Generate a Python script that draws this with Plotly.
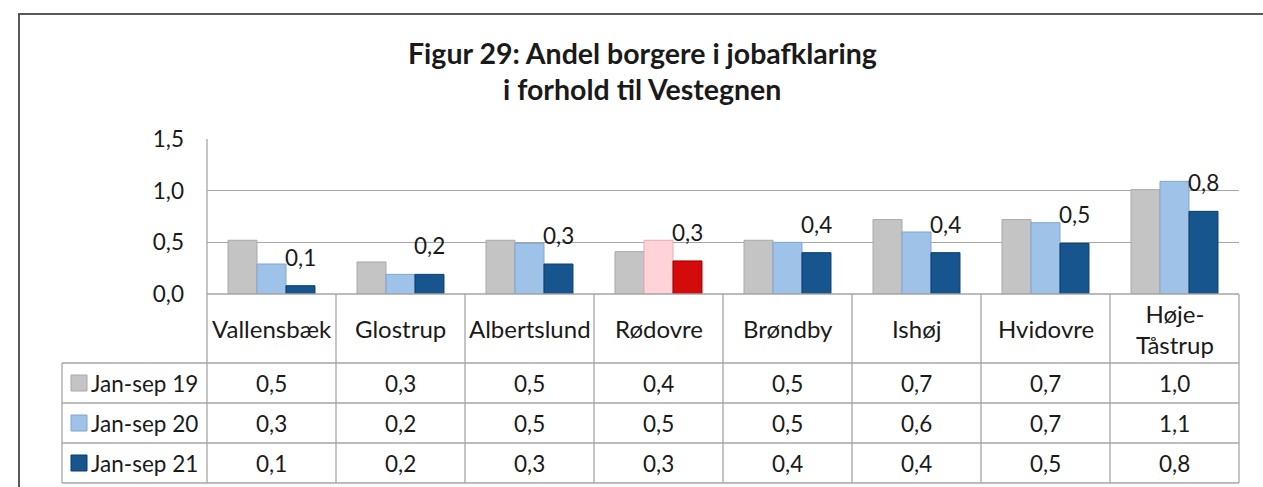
import plotly.graph_objects as go

# ---------------- data ----------------
categories = ["Vallensbæk", "Glostrup", "Albertslund", "Rødovre", "Brøndby", "Ishøj", "Hvidovre", "Høje-Tåstrup"]
cat_labels = ["Vallensbæk", "Glostrup", "Albertslund", "Rødovre", "Brøndby", "Ishøj", "Hvidovre", "Høje-<br>Tåstrup"]
series_names = ["Jan-sep 19", "Jan-sep 20", "Jan-sep 21"]
jan_sep_19 = [0.52, 0.31, 0.52, 0.41, 0.52, 0.72, 0.72, 1.01]
jan_sep_20 = [0.29, 0.19, 0.49, 0.52, 0.50, 0.60, 0.69, 1.09]
jan_sep_21 = [0.08, 0.19, 0.29, 0.32, 0.40, 0.40, 0.49, 0.80]
y_ticks = [0.0, 0.5, 1.0, 1.5]
title_lines = ["Figur 29: Andel borgere i jobafklaring", "i forhold til Vestegnen"]
highlight = "Rødovre"

# ---------------- styling ----------------
W, H = 1263, 487
L, R, T, B = 207, 1239, 139, 294
FONT = "Lato, 'Open Sans', sans-serif"
TXT = "#1a1a1a"
GRID = "#a6a6a6"
base_colors = ["#c4c4c4", "#9fc2e8", "#17558f"]
base_lines = ["#a8a8a8", "#7fa6d0", "#0c3d6b"]
hl_colors = ["#c4c4c4", "#ffd3d8", "#d40b0b"]
hl_lines = ["#a8a8a8", "#e8aab2", "#9e0000"]
NUM_SIZE = 22.5
CAT_SIZE = 24
LEG_SIZE = 22.5
TITLE_SIZE = 28.5


def fx(px):
    return (px - L) / (R - L)


def fy(py):
    return (B - py) / (B - T)


def fmt(v):
    return f"{v:.1f}".replace(".", ",")


series_vals = [jan_sep_19, jan_sep_20, jan_sep_21]
fig = go.Figure()
for i, (name, vals) in enumerate(zip(series_names, series_vals)):
    cols = [hl_colors[i] if c == highlight else base_colors[i] for c in categories]
    lcols = [hl_lines[i] if c == highlight else base_lines[i] for c in categories]
    fig.add_trace(go.Bar(
        x=categories, y=vals, name=name,
        marker=dict(color=cols, line=dict(color=lcols, width=1)),
        showlegend=False, hoverinfo="skip",
    ))

ann = []
# title
for j, (line, py) in enumerate(zip(title_lines, [53, 89])):
    ann.append(dict(text=f"<b>{line}</b>", xref="paper", yref="paper", x=fx(642), y=fy(py),
                    xanchor="center", yanchor="middle", showarrow=False,
                    font=dict(family=FONT, size=TITLE_SIZE, color=TXT)))

# data labels on last series
for c, v in zip(categories, jan_sep_21):
    ann.append(dict(text=fmt(v), x=c, y=v, xref="x", yref="y", xshift=29, yshift=13,
                    xanchor="center", yanchor="bottom", showarrow=False,
                    font=dict(family=FONT, size=NUM_SIZE, color=TXT)))

# table: category header row
n = len(categories)
row_top = [363, 403, 443]
row_h = 40
for k, lab in enumerate(cat_labels):
    ann.append(dict(text=lab, x=(k + 0.5) / n, y=fy((B + 363) / 2), xref="paper", yref="paper",
                    xanchor="center", yanchor="middle", showarrow=False,
                    font=dict(family=FONT, size=CAT_SIZE, color=TXT)))

shapes = []
# table values and legend keys
for r, (name, vals) in enumerate(zip(series_names, series_vals)):
    yc = row_top[r] + row_h / 2
    for k, v in enumerate(vals):
        ann.append(dict(text=fmt(v), x=(k + 0.5) / n, y=fy(yc), xref="paper", yref="paper",
                        xanchor="center", yanchor="middle", showarrow=False,
                        font=dict(family=FONT, size=NUM_SIZE, color=TXT)))
    ann.append(dict(text=name, x=fx(89), y=fy(yc), xref="paper", yref="paper",
                    xanchor="left", yanchor="middle", showarrow=False,
                    font=dict(family=FONT, size=LEG_SIZE, color=TXT)))
    shapes.append(dict(type="rect", xref="paper", yref="paper",
                       x0=fx(71), x1=fx(87), y0=fy(yc - 8), y1=fy(yc + 8),
                       fillcolor=base_colors[r], line=dict(color=base_lines[r], width=1)))

# table grid lines
lw = 1.3
for py in [B, 363, 403, 443, 483]:
    x0 = fx(62) if py != B else 0
    shapes.append(dict(type="line", xref="paper", yref="paper", x0=x0, x1=1, y0=fy(py), y1=fy(py),
                       line=dict(color=GRID, width=lw)))
for k in range(n + 1):
    y1 = fy(T) if k == 0 else fy(B)
    shapes.append(dict(type="line", xref="paper", yref="paper", x0=k / n, x1=k / n, y0=fy(483), y1=y1,
                       line=dict(color=GRID, width=lw)))
shapes.append(dict(type="line", xref="paper", yref="paper", x0=fx(62), x1=fx(62), y0=fy(483), y1=fy(363),
                   line=dict(color=GRID, width=lw)))
# outer chart frame
shapes.append(dict(type="rect", xref="paper", yref="paper", x0=fx(19), x1=fx(1290), y0=fy(520), y1=fy(14),
                   line=dict(color="#595959", width=2), fillcolor="rgba(0,0,0,0)"))

fig.update_layout(
    width=W, height=H,
    margin=dict(l=L, r=W - R, t=T, b=H - B, pad=0),
    paper_bgcolor="white", plot_bgcolor="white",
    barmode="group", bargap=0.326, bargroupgap=0,
    separators=",.",
    font=dict(family=FONT, size=NUM_SIZE, color=TXT),
    xaxis=dict(showticklabels=False, showgrid=False, zeroline=False, showline=False, ticks=""),
    yaxis=dict(range=[0, 1.5], tickvals=y_ticks, tickformat=".1f", showgrid=True, gridcolor=GRID,
               gridwidth=lw, zeroline=False, showline=False, ticks="", ticklabelstandoff=22,
               tickfont=dict(family=FONT, size=NUM_SIZE, color=TXT)),
    annotations=ann, shapes=shapes,
)

fig.write_html("out.html", config={"displayModeBar": False},
               post_script="document.body.style.margin='0';document.body.style.overflow='hidden';")
